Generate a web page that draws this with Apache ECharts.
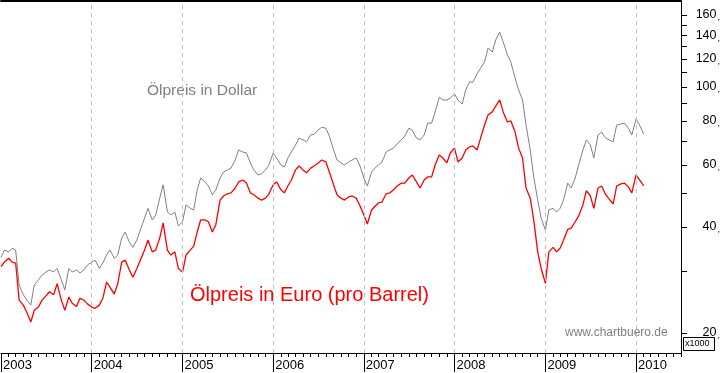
<!DOCTYPE html>
<html><head><meta charset="utf-8">
<script src="https://cdn.jsdelivr.net/npm/echarts@6/dist/echarts.min.js"></script>
<style>html,body{margin:0;padding:0;background:#fff}#c{width:723px;height:373px}</style>
</head><body><div id="c"></div>
<script>
const dates = [
'2003-01-01','2003-01-15','2003-02-01','2003-02-15','2003-03-01','2003-03-15','2003-04-01','2003-04-15','2003-05-01','2003-05-15','2003-06-01','2003-06-15','2003-07-01','2003-07-15','2003-08-01','2003-08-15','2003-09-01','2003-09-15','2003-10-01','2003-10-15','2003-11-01','2003-11-15','2003-12-01','2003-12-15',
'2004-01-01','2004-01-15','2004-02-01','2004-02-15','2004-03-01','2004-03-15','2004-04-01','2004-04-15','2004-05-01','2004-05-15','2004-06-01','2004-06-15','2004-07-01','2004-07-15','2004-08-01','2004-08-15','2004-09-01','2004-09-15','2004-10-01','2004-10-15','2004-11-01','2004-11-15','2004-12-01','2004-12-15',
'2005-01-01','2005-01-15','2005-02-01','2005-02-15','2005-03-01','2005-03-15','2005-04-01','2005-04-15','2005-05-01','2005-05-15','2005-06-01','2005-06-15','2005-07-01','2005-07-15','2005-08-01','2005-08-15','2005-09-01','2005-09-15','2005-10-01','2005-10-15','2005-11-01','2005-11-15','2005-12-01','2005-12-15',
'2006-01-01','2006-01-15','2006-02-01','2006-02-15','2006-03-01','2006-03-15','2006-04-01','2006-04-15','2006-05-01','2006-05-15','2006-06-01','2006-06-15','2006-07-01','2006-07-15','2006-08-01','2006-08-15','2006-09-01','2006-09-15','2006-10-01','2006-10-15','2006-11-01','2006-11-15','2006-12-01','2006-12-15',
'2007-01-01','2007-01-15','2007-02-01','2007-02-15','2007-03-01','2007-03-15','2007-04-01','2007-04-15','2007-05-01','2007-05-15','2007-06-01','2007-06-15','2007-07-01','2007-07-15','2007-08-01','2007-08-15','2007-09-01','2007-09-15','2007-10-01','2007-10-15','2007-11-01','2007-11-15','2007-12-01','2007-12-15',
'2008-01-01','2008-01-15','2008-02-01','2008-02-15','2008-03-01','2008-03-15','2008-04-01','2008-04-15','2008-05-01','2008-05-15','2008-06-01','2008-06-15','2008-07-01','2008-07-15','2008-08-01','2008-08-15','2008-09-01','2008-09-15','2008-10-01','2008-10-15','2008-11-01','2008-11-15','2008-12-01','2008-12-15',
'2009-01-01','2009-01-15','2009-02-01','2009-02-15','2009-03-01','2009-03-15','2009-04-01','2009-04-15','2009-05-01','2009-05-15','2009-06-01','2009-06-15','2009-07-01','2009-07-15','2009-08-01','2009-08-15','2009-09-01','2009-09-15','2009-10-01','2009-10-15','2009-11-01','2009-11-15','2009-12-01','2009-12-15',
'2010-01-01','2010-01-15','2010-02-01'
];
const dollar = [
32.8,34.4,34.0,34.8,34.4,27.4,25.7,24.8,24.0,27.4,28.3,29.2,29.8,30.2,29.8,30.5,28.3,26.5,30.5,29.8,30.2,29.6,30.2,31.2,
31.8,32.2,30.5,31.6,33.3,34.4,32.6,33.3,37.2,38.7,36.2,35.0,36.7,39.2,42.4,45.2,41.9,43.3,48.3,52.7,44.1,43.3,44.1,40.3,
41.4,46.2,45.2,44.7,51.0,55.1,53.7,52.3,49.4,51.0,55.1,57.3,58.1,58.8,62.0,66.2,65.3,64.9,60.8,58.1,56.2,56.6,58.1,60.0,
64.9,62.8,60.0,59.2,62.8,65.3,68.4,71.5,70.7,69.8,73.0,73.4,75.4,76.8,76.3,72.5,66.2,62.0,60.8,60.0,61.2,62.0,62.8,60.0,
55.1,52.3,57.3,58.8,60.0,61.2,65.3,66.2,67.0,68.9,70.7,72.5,76.3,75.4,71.5,70.7,73.0,78.9,78.9,84.9,93.5,91.8,91.8,92.9,
95.5,91.8,89.4,98.0,103.2,103.2,108.8,113.0,117.6,128.8,125.6,135.9,143.1,134.1,123.2,117.6,105.9,98.0,91.8,77.9,66.2,55.5,47.7,42.4,
39.2,44.7,45.2,44.1,45.2,47.7,53.3,51.6,55.1,60.0,66.2,70.7,68.4,62.8,73.0,74.4,71.5,70.7,69.8,77.9,78.4,78.9,76.3,73.0,
81.0,77.9,73.4
];
const euro = [
30.9,31.8,32.6,31.8,31.6,24.8,24.0,22.9,21.5,23.2,23.7,24.8,25.5,26.2,25.7,27.6,24.8,23.2,25.3,24.3,23.8,25.1,24.8,24.2,
23.7,23.5,24.0,25.1,27.9,27.0,25.8,27.6,31.8,32.2,30.2,28.8,30.5,32.2,34.4,36.7,34.0,34.4,37.2,41.1,34.4,33.3,34.0,30.5,
29.8,33.3,34.4,35.3,38.7,41.9,41.9,41.4,38.7,40.6,47.7,49.0,49.7,50.0,51.6,53.7,54.4,53.3,50.0,49.4,48.3,47.7,48.3,49.7,
52.7,53.7,51.0,50.0,52.3,54.4,58.1,59.6,58.1,57.0,58.8,59.6,60.8,62.0,61.2,57.3,52.7,49.4,48.3,47.7,48.7,49.0,48.3,46.2,
43.3,40.8,44.7,45.8,46.8,47.1,49.7,50.0,51.0,52.3,53.3,53.3,55.1,56.2,53.7,51.6,54.4,55.5,55.5,60.0,64.1,62.8,60.8,64.9,
67.0,61.2,62.8,66.2,67.5,67.9,66.2,71.5,77.9,83.2,84.9,88.2,91.8,84.9,79.5,80.0,74.4,67.0,62.8,51.6,48.3,41.9,34.0,30.5,
27.7,34.0,35.0,34.0,34.8,36.7,39.4,39.7,41.4,43.0,46.2,50.7,49.0,45.2,51.6,52.3,49.4,48.0,46.5,52.3,53.0,53.3,52.0,50.0,
56.2,54.4,52.3
];
const yearLabels = ['2003','2004','2005','2006','2007','2008','2009','2010'];
const yTickValues = [20,30,40,50,60,70,80,90,100,110,120,130,140,150,160];
const yLabelValues = [20,40,60,80,100,120,140,160];
const xMin = '2003-01-01', xMax = '2010-07-01';
const yMin = 17.55, yMax = 175.3;

const ts = s => new Date(s + 'T00:00:00Z').getTime();
const yearTicks = yearLabels.map(y => ts(y + '-01-01'));
const monthTicks = [];
yearLabels.forEach(y => { for (let m = 1; m <= 12; m++) { const s = y + '-' + String(m).padStart(2, '0') + '-01'; if (s <= xMax) monthTicks.push(ts(s)); } });

const FONT = '"Liberation Sans", Arial, sans-serif';
const chart = echarts.init(document.getElementById('c'), null, {renderer: 'canvas'});
const xBase = {type: 'value', min: ts(xMin), max: ts(xMax), scale: true};
chart.setOption({
  animation: false,
  textStyle: {fontFamily: FONT},
  grid: {left: 0, right: 41, top: 1, bottom: 20, containLabel: false},
  xAxis: [
    Object.assign({}, xBase, {position: 'bottom',
     axisLine: {show: true, lineStyle: {color: '#000', width: 1}},
     axisTick: {show: true, customValues: monthTicks, length: 4, lineStyle: {color: '#000'}},
     axisLabel: {show: false}, splitLine: {show: false}}),
    Object.assign({}, xBase, {position: 'bottom',
     axisLine: {show: false},
     axisTick: {show: true, customValues: yearTicks, length: 19, lineStyle: {color: '#000'}},
     axisLabel: {show: true, customValues: yearTicks, align: 'left', margin: 6, padding: [0, 0, 0, 2],
       color: '#000', fontSize: 13, fontFamily: FONT,
       formatter: v => String(new Date(v).getUTCFullYear())},
     splitLine: {show: false}}),
    Object.assign({}, xBase, {position: 'top',
     axisLine: {show: true, lineStyle: {color: '#000', width: 2}},
     axisTick: {show: false}, axisLabel: {show: false}, splitLine: {show: false}})
  ],
  yAxis: {
    type: 'log', logBase: 10, min: yMin, max: yMax, position: 'right',
    axisLine: {show: true, lineStyle: {color: '#000', width: 1}},
    axisTick: {show: true, customValues: yTickValues, length: 6, lineStyle: {color: '#000'}},
    axisLabel: {show: true, customValues: yLabelValues, align: 'right', margin: 39,
      formatter: v => '{n|' + Math.round(v) + '}{c|,}',
      rich: {n: {fontSize: 12.5, color: '#000', fontFamily: FONT}, c: {fontSize: 9, color: '#000', fontFamily: FONT, padding: [6, 0, 0, 1]}}},
    splitLine: {show: false}
  },
  series: [
    {name: 'Ölpreis in Dollar', type: 'line', xAxisIndex: 0, symbol: 'none',
     data: dates.map((d, i) => [ts(d), dollar[i]]),
     lineStyle: {color: '#808080', width: 1}},
    {name: 'Ölpreis in Euro', type: 'line', xAxisIndex: 0, symbol: 'none',
     data: dates.map((d, i) => [ts(d), euro[i]]),
     lineStyle: {color: '#ff0000', width: 1.3},
     markLine: {silent: true, symbol: ['none', 'none'], label: {show: false},
       lineStyle: {color: '#bdbdbd', type: [4, 4], width: 1},
       data: yearTicks.slice(1).map(d => ({xAxis: d}))}}
  ],
  graphic: [
    {type: 'text', left: 147, top: 83, style: {text: 'Ölpreis in Dollar', fill: '#808080', font: '15.5px ' + FONT}},
    {type: 'text', left: 190, top: 285, style: {text: 'Ölpreis in Euro (pro Barrel)', fill: '#ff0000', font: '20px ' + FONT}},
    {type: 'text', left: 565, top: 327, style: {text: 'www.chartbuero.de', fill: '#808080', font: '12px ' + FONT}},
    {type: 'rect', shape: {x: 683.5, y: 337.5, width: 31, height: 13}, style: {fill: '#fff', stroke: '#000', lineWidth: 1}},
    {type: 'text', x: 685, y: 339, style: {text: 'x1000', fill: '#000', font: '9px ' + FONT}}
  ]
});
</script></body></html>
